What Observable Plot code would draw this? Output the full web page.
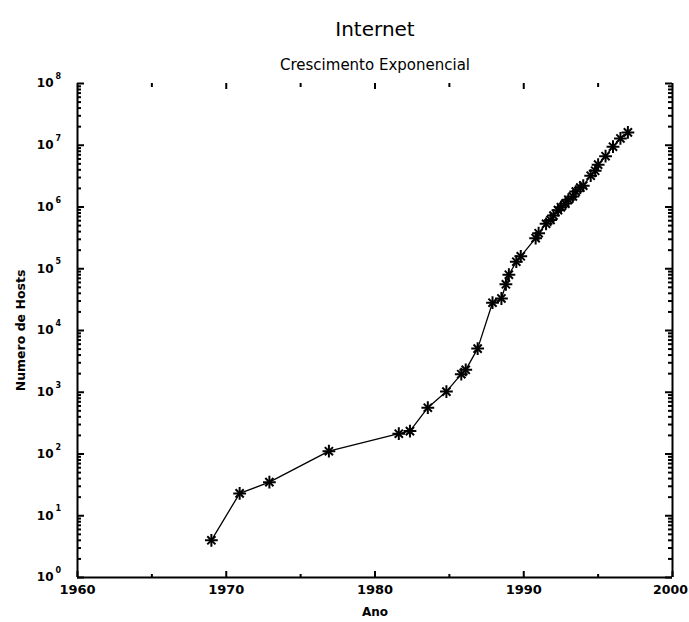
<!DOCTYPE html>
<html>
<head>
<meta charset="utf-8">
<script src="https://cdn.jsdelivr.net/npm/d3@7"></script>
<script src="https://cdn.jsdelivr.net/npm/@observablehq/plot@0.6"></script>
<style>
  html, body { margin: 0; padding: 0; background: #fff; }
  #chart svg { display: block; }
</style>
</head>
<body>
<div id="chart"></div>
<script>
// ---- data ----
const titleText = "Internet";
const subtitleText = "Crescimento Exponencial";
const xLabel = "Ano";
const yLabel = "Numero de Hosts";

const years = [1969.0, 1970.9, 1972.9, 1976.9, 1981.6, 1982.35, 1983.55, 1984.8, 1985.8, 1986.1,
  1986.9, 1987.9, 1988.5, 1988.8, 1989.0, 1989.5, 1989.8, 1990.8, 1991.0, 1991.5,
  1991.8, 1992.0, 1992.3, 1992.5, 1992.8, 1993.0, 1993.3, 1993.5, 1993.8, 1994.0,
  1994.5, 1994.8, 1995.0, 1995.5, 1996.0, 1996.5, 1997.0];
const hosts = [4, 23, 35, 111, 213, 235, 562, 1024, 1961, 2308,
  5089, 28174, 33000, 56000, 80000, 130000, 159000, 313000, 376000, 535000,
  617000, 727000, 890000, 992000, 1136000, 1313000, 1486000, 1776000, 2056000, 2217000,
  3212000, 3864000, 4852000, 6642000, 9472000, 12881000, 16146000];

const xMajorTicks = [1960, 1970, 1980, 1990, 2000];
const xMinorTicks = [1965, 1975, 1985, 1995];
const yMajorTicks = [1, 10, 100, 1e3, 1e4, 1e5, 1e6, 1e7, 1e8];
const yExponents = [0, 1, 2, 3, 4, 5, 6, 7, 8];
const yMinorTicks = [];
for (let e = 0; e < 8; e++) for (let k = 2; k <= 9; k++) yMinorTicks.push(k * Math.pow(10, e));

const table = years.map((y, i) => ({year: y, hosts: hosts[i]}));
const yLabelTable = yMajorTicks.map((v, i) => ({v, e: String(yExponents[i])}));

// ---- layout ----
const W = 689, H = 622;
const mL = 77, mR = 17, mT = 83, mB = 45;
const pw = W - mL - mR, ph = H - mT - mB;
const font = "DejaVu Sans, Liberation Sans, sans-serif";
const black = "#000";

const chart = Plot.plot({
  width: W, height: H,
  marginLeft: mL, marginRight: mR, marginTop: mT, marginBottom: mB,
  style: {fontFamily: font, background: "#fff", color: black},
  x: {domain: [1960, 2000], axis: null},
  y: {type: "log", domain: [1, 1e8], axis: null},
  marks: [
    // axis lines (left, right, bottom)
    Plot.ruleX([1960, 2000], {stroke: black, strokeWidth: 2}),
    Plot.ruleY([1], {stroke: black, strokeWidth: 2}),
    // left ticks
    Plot.tickY(yMajorTicks, {y: d => d, insetRight: pw - 7, stroke: black, strokeWidth: 2}),
    Plot.tickY(yMinorTicks, {y: d => d, insetRight: pw - 4, stroke: black, strokeWidth: 2}),
    // right ticks
    Plot.tickY(yMajorTicks, {y: d => d, insetLeft: pw - 7, stroke: black, strokeWidth: 2}),
    Plot.tickY(yMinorTicks, {y: d => d, insetLeft: pw - 4, stroke: black, strokeWidth: 2}),
    // bottom ticks
    Plot.tickX(xMajorTicks, {x: d => d, insetTop: ph - 6, stroke: black, strokeWidth: 2}),
    Plot.tickX(xMinorTicks, {x: d => d, insetTop: ph - 3, stroke: black, strokeWidth: 2}),
    // top ticks
    Plot.tickX(xMajorTicks.slice(1, -1), {x: d => d, insetBottom: ph - 6, stroke: black, strokeWidth: 2}),
    Plot.tickX(xMinorTicks, {x: d => d, insetBottom: ph - 4, stroke: black, strokeWidth: 2}),
    // x tick labels (last one nudged left so it is not cut by the page edge)
    Plot.text(xMajorTicks.slice(0, -1), {x: d => d, text: d => String(d), frameAnchor: "bottom", dy: 16,
      fontSize: 13, fontWeight: "bold", fill: black}),
    Plot.text(xMajorTicks.slice(-1), {x: d => d, text: d => String(d), frameAnchor: "bottom", dy: 16, dx: -2,
      fontSize: 12.5, fontWeight: "bold", fill: black}),
    // y tick labels: "10" + exponent
    Plot.text(yLabelTable, {y: "v", text: () => "10", frameAnchor: "left", textAnchor: "end", dx: -24,
      fontSize: 12, fontWeight: "bold", fill: black}),
    Plot.text(yLabelTable, {y: "v", text: "e", frameAnchor: "left", textAnchor: "start", dx: -22, dy: -7,
      fontSize: 8, fontWeight: "bold", fill: black}),
    // data line and asterisk markers
    Plot.line(table, {x: "year", y: "hosts", stroke: black, strokeWidth: 1.3}),
    Plot.dot(table, {x: "year", y: "hosts", symbol: "plus", r: 4.2, stroke: black, strokeWidth: 2}),
    Plot.dot(table, {x: "year", y: "hosts", symbol: "times", r: 3.8, stroke: black, strokeWidth: 2}),
    // titles and axis labels
    Plot.text([titleText], {text: d => d, frameAnchor: "top", dy: -62, fontSize: 20, fill: black}),
    Plot.text([subtitleText], {text: d => d, frameAnchor: "top", dy: -24, fontSize: 15, fill: black}),
    Plot.text([xLabel], {text: d => d, frameAnchor: "bottom", dy: 38, fontSize: 12, fontWeight: "bold", fill: black}),
    Plot.text([yLabel], {text: d => d, frameAnchor: "left", textAnchor: "middle", dx: -57, rotate: -90,
      fontSize: 12.5, fontWeight: "bold", fill: black})
  ]
});
document.getElementById("chart").append(chart);
</script>
</body>
</html>
